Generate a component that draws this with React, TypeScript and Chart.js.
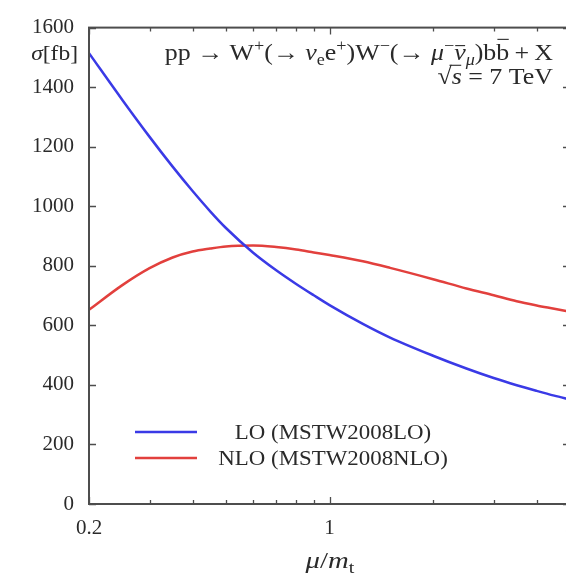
import { useEffect, useRef } from 'react';
import { Chart, registerables } from 'chart.js';

Chart.register(...registerables);

// Renormalisation/factorisation scale over the top-quark mass
const muValues = [0.2, 0.25, 0.3, 0.35, 0.4, 0.45, 0.5, 0.6, 0.7, 0.8, 0.9, 1.0, 1.25, 1.5, 2, 2.5, 3, 3.5, 4, 4.5, 5];
// Cross sections in fb
const sigmaLO = [1514, 1357, 1233, 1133, 1051, 983, 927, 844, 785, 739, 701, 668, 605, 559, 498, 455, 423, 399, 380, 364, 351];
const sigmaNLO = [652, 735, 792, 828, 848, 858, 865, 868, 863, 855, 845, 836, 815, 793, 755, 724, 701, 681, 667, 656, 646];

const seriesLabels = ['LO (MSTW2008LO)', 'NLO (MSTW2008NLO)'];
const seriesColors = ['#3a3ae6', '#e2403d'];

const xTickValues = [0.2, 0.3, 0.4, 0.5, 0.6, 0.7, 0.8, 0.9, 1, 2, 3, 4, 5];
const xLabelledTicks = [0.2, 1, 5];
const yMin = 0;
const yMax = 1600;
const yStep = 200;

const SERIF = '"Liberation Serif", "DejaVu Serif", serif';
const INK = '#2a2a2a';
const FRAME = '#4d4d4d';

type Seg = { t: string; it?: boolean; sub?: boolean; sup?: boolean; bar?: 'low' | 'high' | 'rad' };

function segFont(s: Seg, size: number) {
  const sz = s.sub || s.sup ? size * 0.7 : size;
  return `${s.it ? 'italic ' : ''}${sz}px ${SERIF}`;
}

// Draws a run of text pieces (italic / sub / sup / overbar) with an optional horizontal stretch
function drawRich(
  ctx: CanvasRenderingContext2D,
  segs: Seg[],
  x: number,
  y: number,
  size: number,
  align: 'left' | 'right' | 'center',
  stretch = 1,
) {
  const widths = segs.map((s) => {
    ctx.font = segFont(s, size);
    return ctx.measureText(s.t).width;
  });
  const total = widths.reduce((a, b) => a + b, 0) * stretch;
  const x0 = align === 'left' ? x : align === 'right' ? x - total : x - total / 2;
  ctx.save();
  ctx.translate(x0, y);
  ctx.scale(stretch, 1);
  ctx.fillStyle = INK;
  ctx.strokeStyle = INK;
  ctx.textAlign = 'left';
  ctx.textBaseline = 'alphabetic';
  let cx = 0;
  segs.forEach((s, i) => {
    ctx.font = segFont(s, size);
    let dy = 0;
    if (s.sup) dy = -size * 0.38;
    if (s.sub) dy = size * 0.2;
    ctx.fillText(s.t, cx, dy);
    if (s.bar) {
      const h = s.bar === 'low' ? 0.6 : s.bar === 'high' ? 0.86 : 0.78;
      const start = s.bar === 'rad' ? cx - 2 : cx + 1;
      ctx.lineWidth = 1.1;
      ctx.beginPath();
      ctx.moveTo(start, dy - size * h);
      ctx.lineTo(cx + widths[i] - 0.5, dy - size * h);
      ctx.stroke();
    }
    cx += widths[i];
  });
  ctx.restore();
}

const processLine: Seg[] = [
  { t: 'pp → W' }, { t: '+', sup: true }, { t: '(→ ' }, { t: 'ν', it: true }, { t: 'e', sub: true },
  { t: 'e' }, { t: '+', sup: true }, { t: ')W' }, { t: '−', sup: true }, { t: '(→ ' },
  { t: 'μ', it: true }, { t: '−', sup: true }, { t: 'ν', it: true, bar: 'low' }, { t: 'μ', it: true, sub: true },
  { t: ')b' }, { t: 'b', bar: 'high' }, { t: '\u2009+\u2009X' },
];
const energyLine: Seg[] = [{ t: '√' }, { t: 's', it: true, bar: 'rad' }, { t: ' = 7 TeV' }];
const yTitle: Seg[] = [{ t: 'σ', it: true }, { t: '[fb]' }];
const xTitle: Seg[] = [{ t: 'μ', it: true }, { t: '/' }, { t: 'm', it: true }, { t: 't', sub: true }];

const decorPlugin = {
  id: 'decor',
  afterDatasetsDraw(chart: any) {
    const { ctx, chartArea, scales } = chart;
    const { left, right, top, bottom } = chartArea;
    const xs = scales.x;
    const ys = scales.y;
    ctx.save();
    ctx.strokeStyle = FRAME;
    ctx.lineWidth = 2;
    ctx.strokeRect(left, top, right - left, bottom - top);
    ctx.lineWidth = 1.3;
    ctx.beginPath();
    xs.ticks.forEach((t: any) => {
      const px = Math.round(xs.getPixelForValue(t.value)) + 0.5;
      const len = xLabelledTicks.includes(t.value) ? 7 : 4;
      ctx.moveTo(px, bottom);
      ctx.lineTo(px, bottom - len);
      ctx.moveTo(px, top);
      ctx.lineTo(px, top + len);
    });
    ys.ticks.forEach((t: any) => {
      const py = Math.round(ys.getPixelForValue(t.value)) + 0.5;
      ctx.moveTo(left, py);
      ctx.lineTo(left + 7, py);
      ctx.moveTo(right, py);
      ctx.lineTo(right - 7, py);
    });
    ctx.stroke();
    ctx.restore();

    // process annotation
    drawRich(ctx, processLine, 553, 60, 24, 'right', 1.08);
    drawRich(ctx, energyLine, 553, 84, 24, 'right', 1.08);
    // axis titles
    drawRich(ctx, yTitle, 78, 60, 21, 'right', 1.12);
    drawRich(ctx, xTitle, 330, 568, 23, 'center', 1.25);

    // legend
    const legendY = [432, 458];
    chart.data.datasets.forEach((ds: any, i: number) => {
      const ly = legendY[i];
      ctx.save();
      ctx.strokeStyle = ds.borderColor;
      ctx.lineWidth = 2.5;
      ctx.beginPath();
      ctx.moveTo(135, ly);
      ctx.lineTo(197, ly);
      ctx.stroke();
      ctx.restore();
      drawRich(ctx, [{ t: ds.label }], 333, ly + 7, 21, 'center', 1.09);
    });
  },
};

export default function App() {
  const canvasRef = useRef<HTMLCanvasElement>(null);

  useEffect(() => {
    const canvas = canvasRef.current;
    if (!canvas) return;
    const chart = new Chart(canvas, {
      type: 'line',
      data: {
        datasets: [sigmaLO, sigmaNLO].map((vals, i) => ({
          label: seriesLabels[i],
          data: muValues.map((m, j) => ({ x: m, y: vals[j] })),
          borderColor: seriesColors[i],
          borderWidth: 2.5,
          pointRadius: 0,
          fill: false,
          cubicInterpolationMode: 'monotone' as const,
        })),
      },
      options: {
        responsive: false,
        maintainAspectRatio: false,
        devicePixelRatio: 1,
        animation: false,
        layout: { padding: { top: 21, right: 30, bottom: 0, left: 0 } },
        plugins: { legend: { display: false }, tooltip: { enabled: false } },
        scales: {
          x: {
            type: 'logarithmic',
            min: 0.2,
            max: 5,
            grid: { display: false, drawTicks: false },
            border: { display: false },
            afterBuildTicks: (scale: any) => {
              scale.ticks = xTickValues.map((v) => ({ value: v, major: xLabelledTicks.includes(v) }));
            },
            afterFit: (scale: any) => {
              scale.height = 72;
            },
            ticks: {
              autoSkip: false,
              maxRotation: 0,
              padding: 12,
              color: INK,
              font: { family: SERIF, size: 21 },
              callback: (v: any) => (xLabelledTicks.includes(Number(v)) ? String(v) : ''),
            },
          },
          y: {
            min: yMin,
            max: yMax,
            grid: { display: false, drawTicks: false },
            border: { display: false },
            afterFit: (scale: any) => {
              scale.width = 89;
            },
            ticks: {
              stepSize: yStep,
              padding: 15,
              color: INK,
              font: { family: SERIF, size: 21 },
              callback: (v: any) => String(v),
            },
          },
        },
      },
      plugins: [decorPlugin],
    });
    return () => chart.destroy();
  }, []);

  return (
    <div style={{ position: 'fixed', left: 0, top: 0, width: 566, height: 576, overflow: 'hidden', background: '#fff' }}>
      <canvas ref={canvasRef} width={600} height={576} style={{ display: 'block', width: 600, height: 576 }} />
    </div>
  );
}
